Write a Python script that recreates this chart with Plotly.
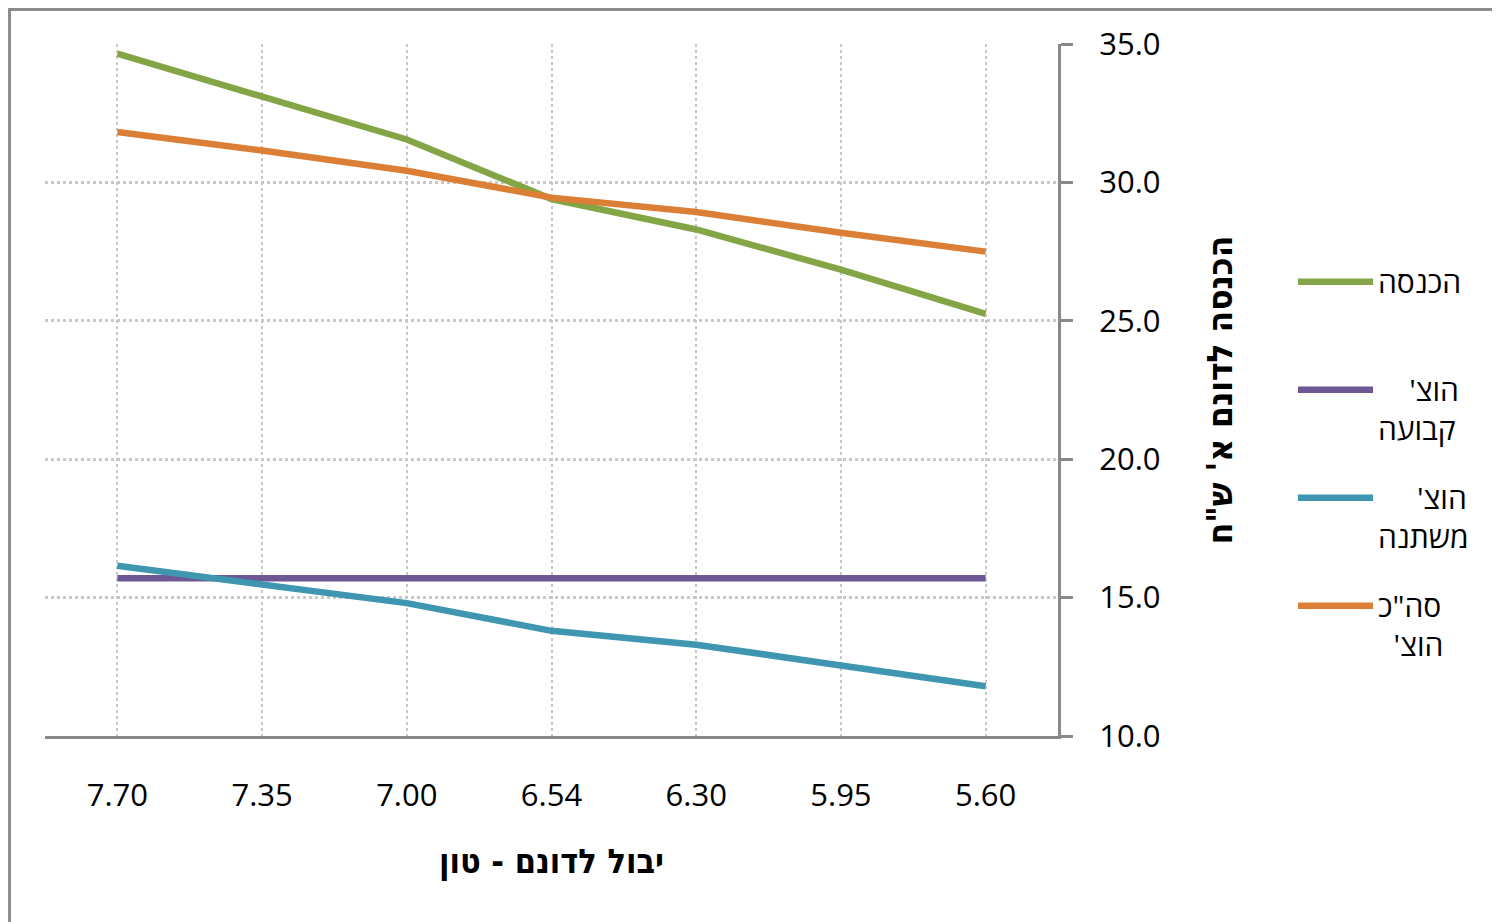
import plotly.graph_objects as go

# yield per dunam (ton), shown left to right as in the source
yield_ton = ["7.70", "7.35", "7.00", "6.54", "6.30", "5.95", "5.60"]

income = [34.65, 33.1, 31.55, 29.4, 28.3, 26.85, 25.25]
fixed_cost = [15.7, 15.7, 15.7, 15.7, 15.7, 15.7, 15.7]
variable_cost = [16.15, 15.45, 14.8, 13.8, 13.3, 12.55, 11.8]
total_cost = [31.82, 31.15, 30.42, 29.45, 28.93, 28.18, 27.5]

names = ["הכנסה", "הוצ'<br>קבועה", "הוצ'<br>משתנה", "סה\"כ<br>הוצ'"]
colors = ["#84A546", "#6F5793", "#3E96B0", "#DC7F36"]

NB = "\u00a0"
RLM = "\u200f"

# rough glyph widths (em) used to right-align the RTL legend lines
char_w = {"'": 0.25, '"': 0.4, "ו": 0.35, "נ": 0.45, "ש": 0.7, "מ": 0.7}


def est_width(s):
    return sum(char_w.get(c, 0.6) for c in s)


def pad_name(name):
    lines = name.split("<br>")
    if len(lines) == 1:
        return name + RLM + "<br>" + NB
    w = max(est_width(l) for l in lines)
    return "<br>".join(NB * int(round((w - est_width(l)) / 0.26)) + l + RLM for l in lines)


fig = go.Figure()
for series, name, color in zip([income, fixed_cost, variable_cost, total_cost], names, colors):
    fig.add_trace(go.Scatter(x=yield_ton, y=series, mode="lines", name=pad_name(name),
                             line=dict(color=color, width=6.5), legendgroup=name))

grid = "#C8C8C8"
axis_c = "#898989"
font = "Open Sans, DejaVu Sans, sans-serif"
bold_font = "DejaVu Sans Condensed, DejaVu Sans, sans-serif"

# the page body adds an 8px offset, margins below account for it
fig.update_layout(
    width=1500, height=922,
    margin=dict(l=37, r=450, t=36, b=194),
    paper_bgcolor="#FFFFFF",
    plot_bgcolor="rgba(0,0,0,0)",
    font=dict(family=font, size=31, color="#000000"),
    showlegend=True,
    legend=dict(x=1.232, y=0.694, xanchor="left", yanchor="top", traceorder="grouped",
                tracegroupgap=27, itemwidth=75, valign="top", font=dict(size=30),
                bgcolor="rgba(0,0,0,0)"),
    xaxis=dict(type="category", range=[-0.5, 6.5], showgrid=True, gridcolor=grid,
               griddash="dot", gridwidth=1.5, showline=True, linecolor=axis_c, linewidth=3,
               ticks="", ticklabelstandoff=30, tickfont=dict(size=31),
               title=dict(text="<b>יבול לדונם - טון</b>", standoff=35,
                          font=dict(size=34, family=bold_font))),
    yaxis=dict(side="right", range=[10, 35], dtick=5, tickformat=".1f",
               showgrid=True, gridcolor=grid, griddash="dot", gridwidth=2.5,
               showline=True, linecolor=axis_c, linewidth=3, ticks="outside",
               ticklen=12, tickwidth=3, tickcolor=axis_c, ticklabelstandoff=20,
               zeroline=False, tickfont=dict(size=31),
               title=dict(text="<b>הכנסה לדונם א' ש\"ח</b>", standoff=48,
                          font=dict(size=35, family=bold_font))),
    shapes=[dict(type="rect", xref="paper", yref="paper", x0=-0.035, y0=-0.35,
                 x1=1.5, y1=1.0498, fillcolor="rgba(0,0,0,0)",
                 line=dict(color="#8C8C8C", width=3), layer="below")],
)

fig.write_html("out.html")
